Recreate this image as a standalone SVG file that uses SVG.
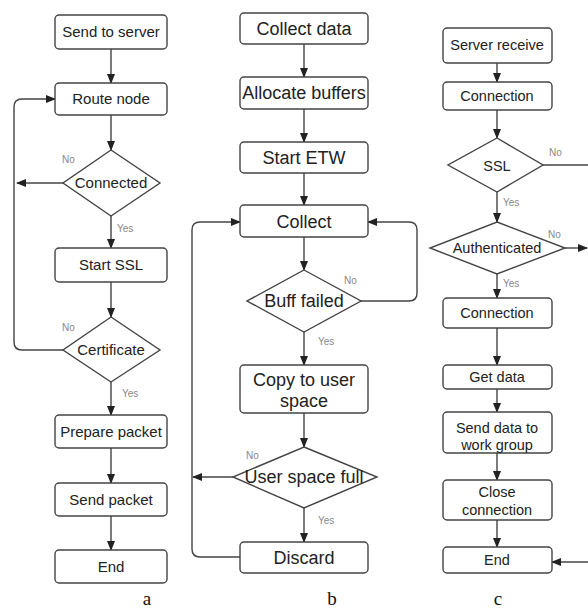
<svg xmlns="http://www.w3.org/2000/svg" width="588" height="608" viewBox="0 0 588 608">
<defs>
<marker id="ah" markerUnits="userSpaceOnUse" markerWidth="10" markerHeight="8" refX="9" refY="4" orient="auto">
<path d="M0,0 L10,4 L0,8 Z" fill="#222"/>
</marker>
<style>
.box{fill:#fff;stroke:#444;stroke-width:1.4}
.dia{fill:#fff;stroke:#444;stroke-width:1.4}
.t{font-family:"Liberation Sans",Arial,sans-serif;fill:#222;text-anchor:middle}
.ta{font-size:15px}
.tb{font-size:18px}
.tc{font-size:14.5px}
.lb{font-family:"Liberation Sans",Arial,sans-serif;font-size:10px;fill:#888}
.cap{font-family:"Liberation Serif","Times New Roman",serif;font-size:19px;fill:#111;text-anchor:middle}
.c{fill:none;stroke:#444;stroke-width:1.4}
.ca{fill:none;stroke:#444;stroke-width:1.4;marker-end:url(#ah)}
</style>
</defs>
<rect width="588" height="608" fill="#fff"/>

<g id="connectors">
<!-- panel a -->
<line class="ca" x1="111" y1="49" x2="111" y2="83"/>
<line class="ca" x1="111" y1="115" x2="111" y2="150"/>
<line class="ca" x1="63" y1="183" x2="17" y2="183"/>
<line class="ca" x1="111" y1="216" x2="111" y2="248"/>
<line class="ca" x1="111" y1="282" x2="111" y2="317"/>
<path class="ca" d="M63,350 H22 Q14,350 14,342 V107 Q14,99 22,99 H55"/>
<line class="ca" x1="111" y1="382" x2="111" y2="415"/>
<line class="ca" x1="111" y1="448" x2="111" y2="483"/>
<line class="ca" x1="111" y1="516" x2="111" y2="550"/>
<!-- panel b -->
<line class="ca" x1="304" y1="44" x2="304" y2="77"/>
<line class="ca" x1="304" y1="109" x2="304" y2="142"/>
<line class="ca" x1="304" y1="173" x2="304" y2="205"/>
<line class="ca" x1="304" y1="237" x2="304" y2="270"/>
<path class="ca" d="M361,301 H409 Q417,301 417,293 V230 Q417,222 409,222 H368"/>
<line class="ca" x1="304" y1="332" x2="304" y2="365"/>
<line class="ca" x1="304" y1="413" x2="304" y2="447"/>
<line class="ca" x1="233" y1="477" x2="193" y2="477"/>
<line class="ca" x1="304" y1="508" x2="304" y2="542"/>
<path class="ca" d="M240,557 H200 Q192,557 192,549 V230 Q192,222 200,222 H240"/>
<!-- panel c -->
<line class="ca" x1="497" y1="63" x2="497" y2="82"/>
<line class="ca" x1="497" y1="110" x2="497" y2="138"/>
<line class="c" x1="543" y1="165" x2="588" y2="165"/>
<line class="ca" x1="497" y1="192" x2="497" y2="222"/>
<line class="ca" x1="565" y1="248" x2="587" y2="248"/>
<line class="ca" x1="497" y1="274" x2="497" y2="298"/>
<line class="ca" x1="497" y1="328" x2="497" y2="365"/>
<line class="ca" x1="497" y1="389" x2="497" y2="412"/>
<line class="ca" x1="497" y1="453" x2="497" y2="480"/>
<line class="ca" x1="497" y1="520" x2="497" y2="547"/>
<line class="ca" x1="588" y1="562" x2="552" y2="562"/>
</g>

<g id="labels">
<text class="lb" x="62" y="163">No</text>
<text class="lb" x="117" y="232">Yes</text>
<text class="lb" x="62" y="331">No</text>
<text class="lb" x="122" y="397">Yes</text>
<text class="lb" x="344" y="284">No</text>
<text class="lb" x="318" y="345">Yes</text>
<text class="lb" x="246" y="459">No</text>
<text class="lb" x="318" y="524">Yes</text>
<text class="lb" x="549" y="156">No</text>
<text class="lb" x="503" y="206">Yes</text>
<text class="lb" x="548" y="238">No</text>
<text class="lb" x="503" y="287">Yes</text>
</g>

<!-- Panel a -->
<g id="a_send_to_server"><rect class="box" x="55" y="15" width="112" height="34" rx="4"/><text class="t ta" x="111" y="37">Send to server</text></g>
<g id="a_route_node"><rect class="box" x="55" y="83" width="112" height="32" rx="4"/><text class="t ta" x="111" y="104">Route node</text></g>
<g id="a_connected"><polygon class="dia" points="111,150 160,183 111,216 63,183"/><text class="t ta" x="111" y="188">Connected</text></g>
<g id="a_start_ssl"><rect class="box" x="55" y="248" width="112" height="34" rx="4"/><text class="t ta" x="111" y="270">Start SSL</text></g>
<g id="a_certificate"><polygon class="dia" points="111,317 160,350 111,382 63,350"/><text class="t ta" x="111" y="355">Certificate</text></g>
<g id="a_prepare_packet"><rect class="box" x="55" y="415" width="112" height="33" rx="4"/><text class="t ta" x="111" y="437">Prepare packet</text></g>
<g id="a_send_packet"><rect class="box" x="55" y="483" width="112" height="33" rx="4"/><text class="t ta" x="111" y="505">Send packet</text></g>
<g id="a_end"><rect class="box" x="55" y="550" width="112" height="33" rx="4"/><text class="t ta" x="111" y="572">End</text></g>
<text class="cap" x="147" y="605">a</text>

<!-- Panel b -->
<g id="b_collect_data"><rect class="box" x="240" y="13" width="128" height="31" rx="4"/><text class="t tb" x="304" y="35">Collect data</text></g>
<g id="b_allocate_buffers"><rect class="box" x="240" y="77" width="128" height="32" rx="4"/><text class="t tb" x="304" y="99">Allocate buffers</text></g>
<g id="b_start_etw"><rect class="box" x="240" y="142" width="128" height="31" rx="4"/><text class="t tb" x="304" y="164">Start ETW</text></g>
<g id="b_collect"><rect class="box" x="240" y="205" width="128" height="32" rx="4"/><text class="t tb" x="304" y="228">Collect</text></g>
<g id="b_buff_failed"><polygon class="dia" points="304,270 361,301 304,332 247,301"/><text class="t tb" x="304" y="307">Buff failed</text></g>
<g id="b_copy"><rect class="box" x="240" y="365" width="128" height="48" rx="4"/><text class="t tb" x="304" y="386">Copy to user</text><text class="t tb" x="304" y="407">space</text></g>
<g id="b_user_space_full"><polygon class="dia" points="304,447 377,477 304,508 233,477"/><text class="t tb" x="304" y="483">User space full</text></g>
<g id="b_discard"><rect class="box" x="240" y="542" width="128" height="31" rx="4"/><text class="t tb" x="304" y="564">Discard</text></g>
<text class="cap" x="332" y="605">b</text>

<!-- Panel c -->
<g id="c_server_receive"><rect class="box" x="443" y="28" width="109" height="35" rx="4"/><text class="t tc" x="497" y="50">Server receive</text></g>
<g id="c_connection1"><rect class="box" x="443" y="82" width="109" height="28" rx="4"/><text class="t tc" x="497" y="101">Connection</text></g>
<g id="c_ssl"><polygon class="dia" points="497,138 543,165 497,192 448,165"/><text class="t tc" x="497" y="171">SSL</text></g>
<g id="c_authenticated"><polygon class="dia" points="497,222 565,248 497,274 430,248"/><text class="t tc" x="497" y="253">Authenticated</text></g>
<g id="c_connection2"><rect class="box" x="443" y="298" width="109" height="30" rx="4"/><text class="t tc" x="497" y="318">Connection</text></g>
<g id="c_get_data"><rect class="box" x="443" y="365" width="109" height="24" rx="4"/><text class="t tc" x="497" y="382">Get data</text></g>
<g id="c_send_data"><rect class="box" x="443" y="412" width="109" height="41" rx="4"/><text class="t tc" x="497" y="433">Send data to</text><text class="t tc" x="497" y="450">work group</text></g>
<g id="c_close_connection"><rect class="box" x="443" y="480" width="109" height="40" rx="4"/><text class="t tc" x="497" y="497">Close</text><text class="t tc" x="497" y="515">connection</text></g>
<g id="c_end"><rect class="box" x="443" y="547" width="109" height="26" rx="4"/><text class="t tc" x="497" y="565">End</text></g>
<text class="cap" x="498" y="605">c</text>
</svg>
